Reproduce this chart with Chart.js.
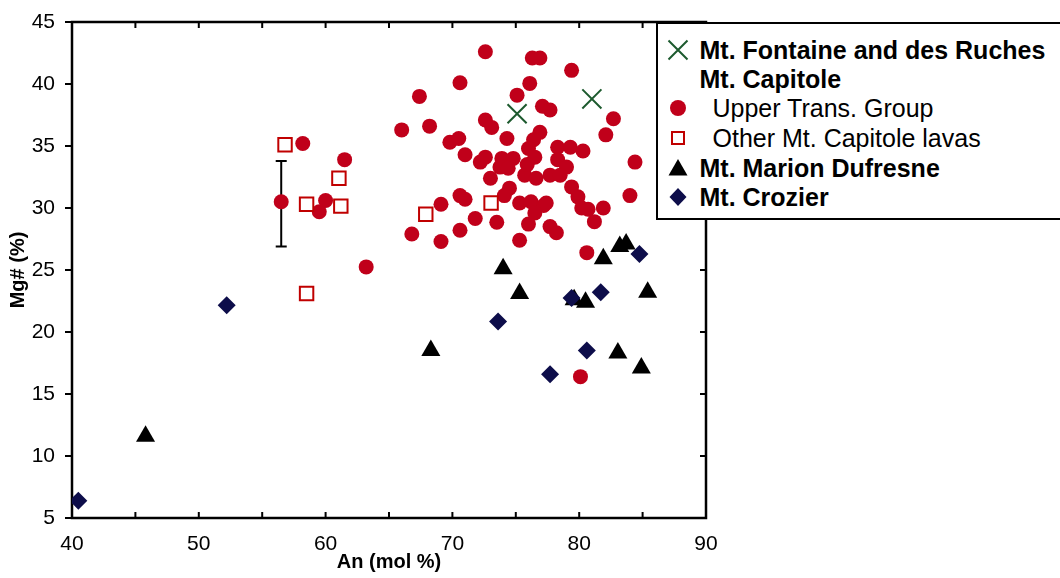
<!DOCTYPE html>
<html><head><meta charset="utf-8">
<script src="https://cdn.jsdelivr.net/npm/chart.js@4.4.1/dist/chart.umd.min.js"></script>
<style>
html,body{margin:0;padding:0;background:#fff;}
#wrap{position:relative;width:1060px;height:578px;overflow:hidden;}
#c{position:absolute;left:0;top:0;}
#legend{position:absolute;left:656px;top:22px;width:440px;height:198px;border:2.5px solid #000;background:#fff;box-sizing:border-box;font-family:"Liberation Sans",Arial,sans-serif;font-size:25px;color:#000;}
.row{position:absolute;left:0;width:100%;height:30px;line-height:30px;white-space:nowrap;}
.row svg{position:absolute;left:7.5px;top:3px;}
.row span{position:absolute;top:0;white-space:nowrap;}
.b{font-weight:bold;left:41.5px;}
.n{left:54.5px;}
</style>
</head><body>
<div id="wrap">
<canvas id="c" width="1060" height="578"></canvas>
<div id="legend">
  <div class="row" style="top:10.5px"><svg width="24" height="24"><path d="M2.5 2.5L21.5 21.5M21.5 2.5L2.5 21.5" stroke="#1d5a2e" stroke-width="2" fill="none"/></svg><span class="b">Mt. Fontaine and des Ruches</span></div>
  <div class="row" style="top:40px"><span class="b">Mt. Capitole</span></div>
  <div class="row" style="top:69px"><svg width="24" height="24"><circle cx="12" cy="12" r="8" fill="#c0001a"/></svg><span class="n">Upper Trans. Group</span></div>
  <div class="row" style="top:98.5px"><svg width="24" height="24"><rect x="6" y="6" width="12" height="12" stroke="#c00000" stroke-width="2" fill="#fff"/></svg><span class="n">Other Mt. Capitole lavas</span></div>
  <div class="row" style="top:128.5px"><svg width="24" height="24"><polygon points="12,3 21.5,19.5 2.5,19.5" fill="#000"/></svg><span class="b">Mt. Marion Dufresne</span></div>
  <div class="row" style="top:158px"><svg width="24" height="24"><polygon points="12,3 20.5,12 12,21 3.5,12" fill="#0d0d4a"/></svg><span class="b">Mt. Crozier</span></div>
</div>
</div>
<script>
// ---- data ----
const xTicks = [40, 50, 60, 70, 80, 90];
const yTicks = [5, 10, 15, 20, 25, 30, 35, 40, 45];

const fontaineX = [75.1, 81.0];
const fontaineY = [37.6, 38.8];

const upperTransX = [58.2, 61.5, 56.5, 60.0, 59.5, 63.2,
  72.6, 76.3, 76.9, 79.4, 70.6, 76.1, 67.4, 75.1, 77.1, 77.7, 82.7, 66.0, 68.2, 72.6,
  73.1, 82.1, 74.3, 76.9, 76.4, 69.8, 70.5, 76.0, 78.3, 79.3, 80.3, 84.4, 71.0, 72.6,
  72.2, 73.9, 74.8, 76.5, 78.3, 79.0, 73.75, 73.0, 75.7, 76.6, 77.7, 78.5, 79.4, 79.9,
  80.2, 81.9, 84.0, 81.2, 74.5, 74.1, 70.6, 71.0, 69.1, 75.3, 76.2, 77.2, 77.4, 76.5,
  71.8, 73.5, 76.0, 77.7, 78.2, 70.6, 66.8, 69.1, 75.3, 80.6, 80.1, 75.9, 80.7, 74.4];
const upperTransY = [35.2, 33.9, 30.5, 30.6, 29.7, 25.25,
  42.6, 42.1, 42.1, 41.1, 40.1, 40.05, 39.0, 39.1, 38.2, 37.9, 37.2, 36.3, 36.6, 37.1,
  36.5, 35.9, 35.6, 36.1, 35.5, 35.3, 35.6, 34.8, 34.9, 34.9, 34.6, 33.7, 34.3, 34.1,
  33.7, 34.0, 34.0, 34.1, 33.9, 33.3, 33.3, 32.4, 32.65, 32.4, 32.65, 32.65, 31.7, 30.9,
  30.0, 30.0, 31.0, 28.9, 31.6, 31.0, 31.0, 30.7, 30.3, 30.4, 30.5, 30.2, 30.4, 29.6,
  29.15, 28.85, 28.7, 28.5, 28.0, 28.2, 27.9, 27.3, 27.4, 26.4, 16.4, 33.5, 29.9, 33.2];

const otherCapX = [56.8, 58.5, 61.05, 61.2, 58.5, 67.9, 73.05];
const otherCapY = [35.1, 30.3, 32.4, 30.15, 23.1, 29.5, 30.4];

const marionX = [45.8, 68.3, 74.0, 75.3, 79.6, 80.5, 81.9, 83.2, 83.7, 83.05, 84.9, 85.4];
const marionY = [11.6, 18.5, 25.1, 23.1, 22.6, 22.4, 25.9, 26.9, 27.1, 18.3, 17.1, 23.2];

const crozierX = [40.5, 52.2, 73.6, 79.4, 81.7, 80.6, 77.7, 84.75];
const crozierY = [6.4, 22.15, 20.85, 22.75, 23.2, 18.5, 16.6, 26.3];

// error bar on the Upper Trans. Group sample at An 56.5
const errX = 56.5, errLow = 26.9, errHigh = 33.8;

function pts(xs, ys) { return xs.map((v, i) => ({x: v, y: ys[i]})); }

const FONT = '"Liberation Sans", Arial, sans-serif';

const framePlugin = {
  id: 'frame',
  beforeDatasetsDraw(chart) {
    const ctx = chart.ctx, a = chart.chartArea, xs = chart.scales.x, ys = chart.scales.y;
    ctx.save();
    ctx.strokeStyle = '#000';
    ctx.lineWidth = 2.5;
    ctx.strokeRect(a.left, a.top, a.right - a.left, a.bottom - a.top);
    ctx.lineWidth = 2;
    ctx.beginPath();
    for (let v = xs.min; v <= xs.max; v += 5) {
      const p = xs.getPixelForValue(v);
      ctx.moveTo(p, a.bottom); ctx.lineTo(p, a.bottom - 6);
      ctx.moveTo(p, a.top); ctx.lineTo(p, a.top + 6);
    }
    for (let v = ys.min; v <= ys.max; v += 5) {
      const p = ys.getPixelForValue(v);
      ctx.moveTo(a.left, p); ctx.lineTo(a.left - 7, p);
      ctx.moveTo(a.right, p); ctx.lineTo(a.right - 6, p);
    }
    ctx.stroke();
    // error bar
    const px = xs.getPixelForValue(errX), y1 = ys.getPixelForValue(errLow), y2 = ys.getPixelForValue(errHigh);
    ctx.lineWidth = 2;
    ctx.beginPath();
    ctx.moveTo(px, y1); ctx.lineTo(px, y2);
    ctx.moveTo(px - 5.5, y1); ctx.lineTo(px + 5.5, y1);
    ctx.moveTo(px - 5.5, y2); ctx.lineTo(px + 5.5, y2);
    ctx.stroke();
    ctx.restore();
  }
};

new Chart(document.getElementById('c'), {
  type: 'scatter',
  data: {
    datasets: [
      {label: 'Mt. Fontaine and des Ruches', data: pts(fontaineX, fontaineY), pointStyle: 'crossRot', pointRadius: 13.5, borderColor: '#1d5a2e', backgroundColor: '#1d5a2e', borderWidth: 2},
      {label: 'Mt. Crozier', data: pts(crozierX, crozierY), pointStyle: 'rectRot', pointRadius: 9, backgroundColor: '#0d0d4a', borderColor: '#0d0d4a', borderWidth: 0},
      {label: 'Mt. Marion Dufresne', data: pts(marionX, marionY), pointStyle: 'triangle', pointRadius: 11, backgroundColor: '#000', borderColor: '#000', borderWidth: 0},
      {label: 'Other Mt. Capitole lavas', data: pts(otherCapX, otherCapY), pointStyle: 'rect', pointRadius: 9.5, backgroundColor: '#fff', borderColor: '#c00000', borderWidth: 2},
      {label: 'Upper Trans. Group', data: pts(upperTransX, upperTransY), pointStyle: 'circle', pointRadius: 7.5, backgroundColor: '#c0001a', borderColor: '#c0001a', borderWidth: 0}
    ]
  },
  options: {
    responsive: false,
    animation: false,
    events: [],
    layout: {padding: {top: 22, right: 354, left: 0, bottom: 0}},
    plugins: {legend: {display: false}, tooltip: {enabled: false}},
    scales: {
      x: {
        type: 'linear', min: 40, max: 90,
        afterBuildTicks(s) { s.ticks = xTicks.map(v => ({value: v})); },
        ticks: {color: '#000', font: {family: FONT, size: 21}, padding: 6, maxRotation: 0, autoSkip: false},
        grid: {display: false}, border: {display: false},
        title: {display: true, text: 'An (mol %)', color: '#000', font: {family: FONT, size: 20, weight: 'bold'}, padding: {top: 0, bottom: 4}},
        afterFit(s) { s.height = 60; }
      },
      y: {
        type: 'linear', min: 5, max: 45,
        afterBuildTicks(s) { s.ticks = yTicks.map(v => ({value: v})); },
        ticks: {color: '#000', font: {family: FONT, size: 21}, padding: 9, autoSkip: false},
        grid: {display: false}, border: {display: false},
        title: {display: true, text: 'Mg# (%)', color: '#000', font: {family: FONT, size: 20, weight: 'bold'}, padding: {top: 6, bottom: 0}},
        afterFit(s) { s.width = 72; }
      }
    }
  },
  plugins: [framePlugin]
});
</script>
</body></html>
